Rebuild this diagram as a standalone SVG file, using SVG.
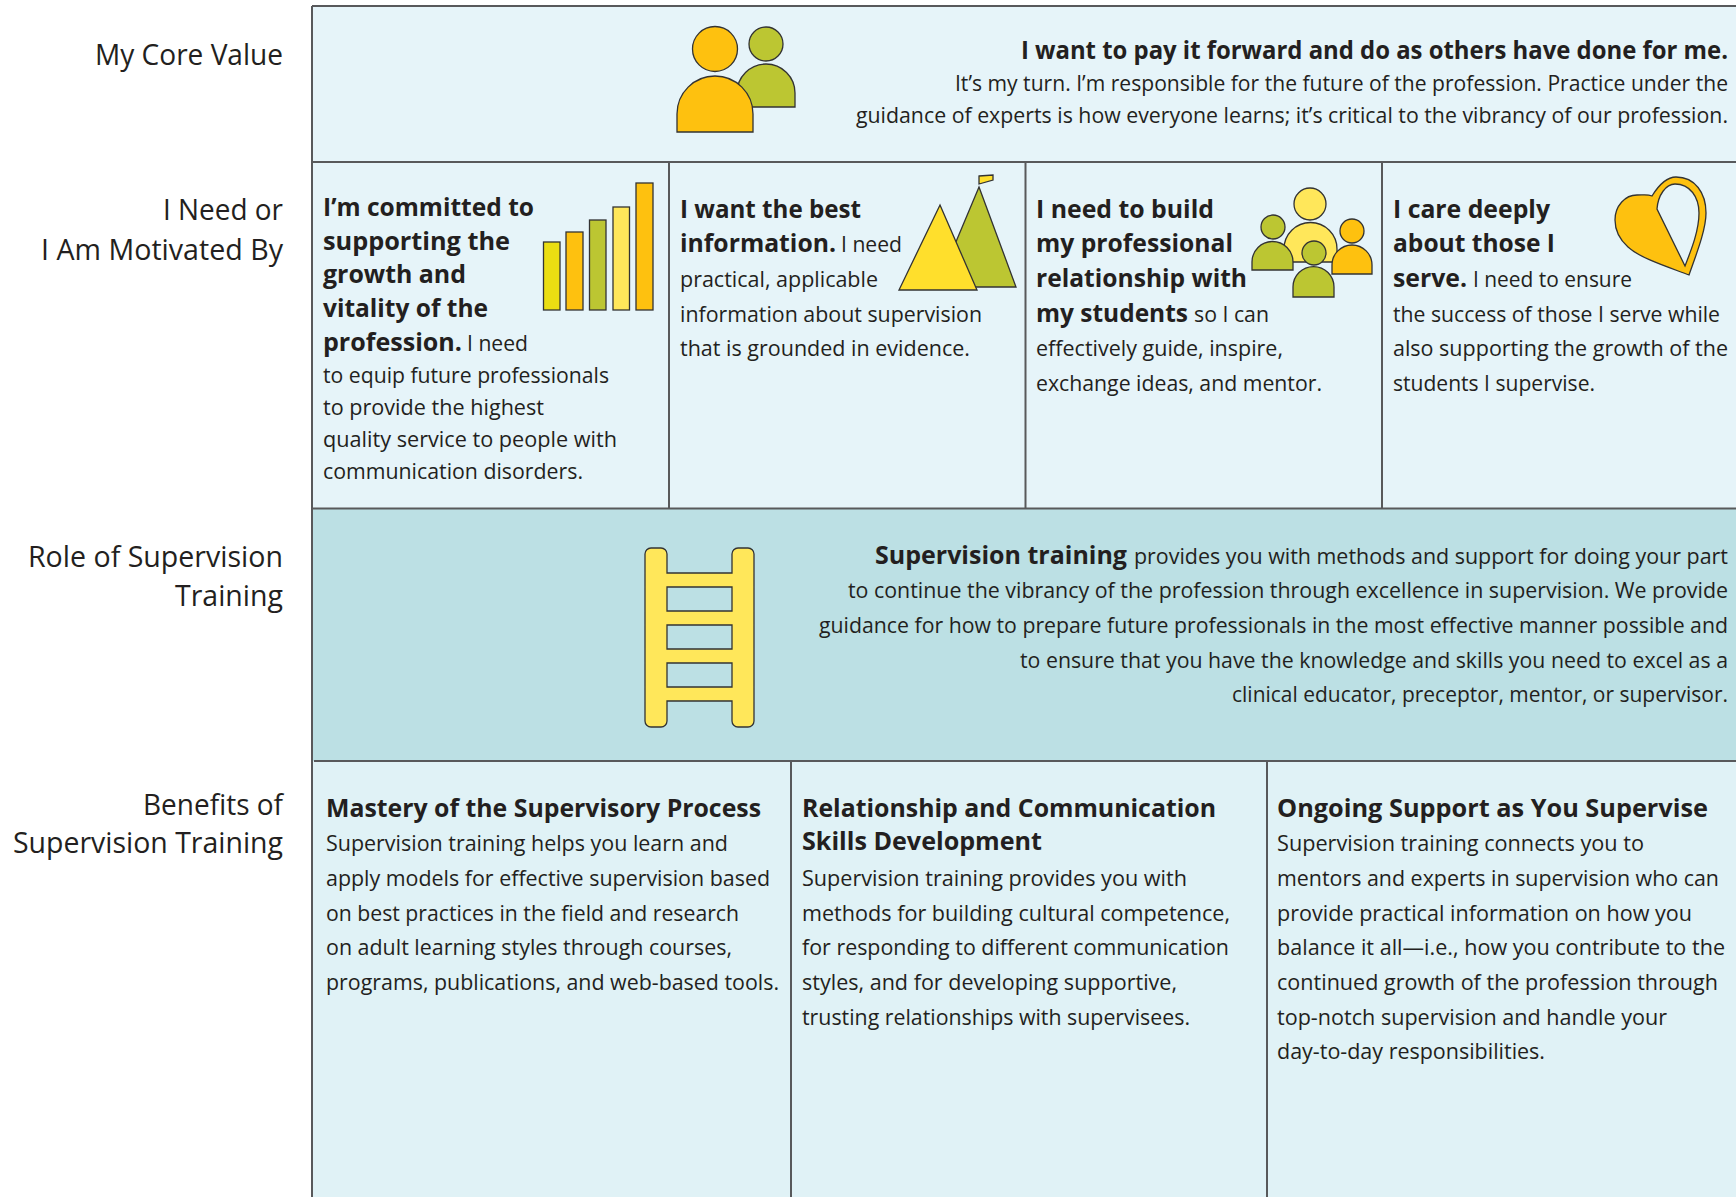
<svg xmlns="http://www.w3.org/2000/svg" width="1736" height="1197" viewBox="0 0 1736 1197">
<style>
text{font-family:"Open Sans","Noto Sans","Liberation Sans",sans-serif;fill:#231f20}
.l{font-size:29px}
.b{font-size:25px;font-weight:700}
.t{font-size:22px}
.e{text-anchor:end}
.ln{stroke:#58595b;stroke-width:2;fill:none}
.i{stroke:#333;stroke-width:1.3}
.o{fill:#fec10f}.g{fill:#bcc632}.y{fill:#ffe75a}
</style>
<g id="backgrounds">
<rect x="312" y="6" width="1424" height="156" fill="#e6f4f9"/>
<rect x="312" y="162" width="1424" height="346" fill="#e6f4f9"/>
<rect x="312" y="508" width="1424" height="253" fill="#bce0e4"/>
<rect x="312" y="761" width="1424" height="436" fill="#e0f2f6"/>
</g>
<g id="grid">
<path class="ln" d="M312 6H1736M312 162H1736M312 508.5H1736M314 761H1736M312 6V1197M669 162V508M1025.5 162V508M1382 162V508M791 761V1197M1267 761V1197"/>
</g>
<g id="row-labels">
<text class="l" x="95" y="65" textLength="188" lengthAdjust="spacingAndGlyphs">My Core Value</text>
<text class="l" x="163" y="220" textLength="120" lengthAdjust="spacingAndGlyphs">I Need or</text>
<text class="l" x="41" y="260" textLength="242" lengthAdjust="spacingAndGlyphs">I Am Motivated By</text>
<text class="l" x="28" y="567" textLength="255" lengthAdjust="spacingAndGlyphs">Role of Supervision</text>
<text class="l" x="175" y="606" textLength="108" lengthAdjust="spacingAndGlyphs">Training</text>
<text class="l" x="143" y="815" textLength="140" lengthAdjust="spacingAndGlyphs">Benefits of</text>
<text class="l" x="13" y="853" textLength="270" lengthAdjust="spacingAndGlyphs">Supervision Training</text>
</g>
<g id="core-value">
<g id="icon-people-two">
<circle class="i g" cx="766" cy="44" r="17"/>
<path class="i g" d="M737 107V93A29 29 0 0 1 795 93V107Z"/>
<circle class="i o" cx="715" cy="49" r="22.5"/>
<path class="i o" d="M677 132V114A38 38 0 0 1 753 114V132Z"/>
</g>
<text class="b e" transform="scale(.85 1)" x="2032.9" y="59" textLength="831.8" lengthAdjust="spacingAndGlyphs">I want to pay it forward and do as others have done for me.</text>
<g transform="scale(.925 1)">
<text class="t e" x="1868.1" y="91" textLength="835.7" lengthAdjust="spacingAndGlyphs">It’s my turn. I’m responsible for the future of the profession. Practice under the</text>
<text class="t e" x="1868.1" y="123" textLength="942.7" lengthAdjust="spacingAndGlyphs">guidance of experts is how everyone learns; it’s critical to the vibrancy of our profession.</text>
</g>
</g>
<g id="need-growth">
<g id="icon-bars" class="i">
<rect x="543.5" y="242" width="16.5" height="68" fill="#ebde12"/>
<rect x="566" y="232" width="17" height="78" class="o"/>
<rect x="589.5" y="220" width="16.5" height="90" class="g"/>
<rect x="613" y="207" width="16.5" height="103" class="y"/>
<rect x="636" y="183" width="17" height="127" class="o"/>
</g>
<text class="b" x="323" y="216" textLength="211" lengthAdjust="spacingAndGlyphs">I’m committed to</text>
<text class="b" x="323" y="250" textLength="187" lengthAdjust="spacingAndGlyphs">supporting the</text>
<text class="b" x="323" y="283" textLength="143" lengthAdjust="spacingAndGlyphs">growth and</text>
<text class="b" x="323" y="317" textLength="165" lengthAdjust="spacingAndGlyphs">vitality of the</text>
<text class="b" x="323" y="351" textLength="139" lengthAdjust="spacingAndGlyphs">profession.</text>
<text class="t" x="467" y="351" textLength="61" lengthAdjust="spacingAndGlyphs">I need</text>
<text class="t" x="323" y="383" textLength="286" lengthAdjust="spacingAndGlyphs">to equip future professionals</text>
<text class="t" x="323" y="415" textLength="221" lengthAdjust="spacingAndGlyphs">to provide the highest</text>
<text class="t" x="323" y="447" textLength="294" lengthAdjust="spacingAndGlyphs">quality service to people with</text>
<text class="t" x="323" y="479" textLength="260" lengthAdjust="spacingAndGlyphs">communication disorders.</text>
</g>
<g id="need-information">
<g id="icon-mountains" class="i">
<path class="g" d="M979 187L1016 287H937Z"/>
<path fill="#ffdf2c" d="M940 205L977 290H899Z"/>
<path fill="#ffdf2c" d="M979 176L993 175V180L979 184Z"/>
</g>
<text class="b" x="680" y="218" textLength="181" lengthAdjust="spacingAndGlyphs">I want the best</text>
<text class="b" x="680" y="252" textLength="156" lengthAdjust="spacingAndGlyphs">information.</text>
<text class="t" x="841" y="252" textLength="61" lengthAdjust="spacingAndGlyphs">I need</text>
<text class="t" x="680" y="287" textLength="198" lengthAdjust="spacingAndGlyphs">practical, applicable</text>
<text class="t" x="680" y="322" textLength="302" lengthAdjust="spacingAndGlyphs">information about supervision</text>
<text class="t" x="680" y="356" textLength="290" lengthAdjust="spacingAndGlyphs">that is grounded in evidence.</text>
</g>
<g id="need-relationship">
<g id="icon-people-group" class="i">
<circle class="y" cx="1310" cy="204" r="16"/>
<path class="y" d="M1284 262V249A26.5 26.5 0 0 1 1337 249V262Z"/>
<circle class="g" cx="1273" cy="227" r="12"/>
<path class="g" d="M1252 270V262A20.5 20.5 0 0 1 1293 262V270Z"/>
<circle class="o" cx="1352" cy="231" r="12"/>
<path class="o" d="M1332 274V265A20 20 0 0 1 1372 265V274Z"/>
<circle class="g" cx="1314" cy="253" r="12"/>
<path class="g" d="M1293 297V287A20.5 20.5 0 0 1 1334 287V297Z"/>
</g>
<text class="b" x="1036" y="218" textLength="178" lengthAdjust="spacingAndGlyphs">I need to build</text>
<text class="b" x="1036" y="252" textLength="197" lengthAdjust="spacingAndGlyphs">my professional</text>
<text class="b" x="1036" y="287" textLength="211" lengthAdjust="spacingAndGlyphs">relationship with</text>
<text class="b" x="1036" y="322" textLength="152" lengthAdjust="spacingAndGlyphs">my students</text>
<text class="t" x="1194" y="322" textLength="75" lengthAdjust="spacingAndGlyphs">so I can</text>
<text class="t" x="1036" y="356" textLength="247" lengthAdjust="spacingAndGlyphs">effectively guide, inspire,</text>
<text class="t" x="1036" y="391" textLength="286" lengthAdjust="spacingAndGlyphs">exchange ideas, and mentor.</text>
</g>
<g id="need-care">
<g id="icon-heart" class="i">
<path class="o" d="M1652 196C1660 183 1668 177 1676 177C1695 177 1706 193 1706 213C1706 230 1696 255 1689 275C1665 266 1640 258 1628 247C1618 238 1615 228 1615 220C1615 206 1625 195 1637 195C1643 195 1648 194 1652 196Z"/>
<path fill="#e6f4f9" d="M1685 266L1657 209C1658 195 1666 184 1675 184C1690 184 1699 197 1699 213C1699 230 1692 248 1685 266Z"/>
</g>
<text class="b" x="1393" y="218" textLength="157" lengthAdjust="spacingAndGlyphs">I care deeply</text>
<text class="b" x="1393" y="252" textLength="162" lengthAdjust="spacingAndGlyphs">about those I</text>
<text class="b" x="1393" y="287" textLength="74" lengthAdjust="spacingAndGlyphs">serve.</text>
<text class="t" x="1473" y="287" textLength="159" lengthAdjust="spacingAndGlyphs">I need to ensure</text>
<text class="t" x="1393" y="322" textLength="327" lengthAdjust="spacingAndGlyphs">the success of those I serve while</text>
<text class="t e" transform="scale(.925 1)" x="1868.1" y="356" textLength="362.2" lengthAdjust="spacingAndGlyphs">also supporting the growth of the</text>
<text class="t" x="1393" y="391" textLength="202" lengthAdjust="spacingAndGlyphs">students I supervise.</text>
</g>
<g id="role">
<path id="icon-ladder" class="i y" fill-rule="evenodd" d="M651 548H661A6 6 0 0 1 667 554V573H732V554A6 6 0 0 1 738 548H748A6 6 0 0 1 754 554V721A6 6 0 0 1 748 727H738A6 6 0 0 1 732 721V701H667V721A6 6 0 0 1 661 727H651A6 6 0 0 1 645 721V554A6 6 0 0 1 651 548ZM667 587V611H732V587ZM667 625V649H732V625ZM667 663V687H732V663Z"/>
<text class="b" x="875" y="564" textLength="252" lengthAdjust="spacingAndGlyphs">Supervision training</text>
<g transform="scale(.925 1)">
<text class="t e" x="1868.1" y="564" textLength="642.2" lengthAdjust="spacingAndGlyphs">provides you with methods and support for doing your part</text>
<text class="t e" x="1868.1" y="598" textLength="951.4" lengthAdjust="spacingAndGlyphs">to continue the vibrancy of the profession through excellence in supervision. We provide</text>
<text class="t e" x="1868.1" y="633" textLength="982.7" lengthAdjust="spacingAndGlyphs">guidance for how to prepare future professionals in the most effective manner possible and</text>
<text class="t e" x="1868.1" y="668" textLength="765.4" lengthAdjust="spacingAndGlyphs">to ensure that you have the knowledge and skills you need to excel as a</text>
<text class="t e" x="1868.1" y="702" textLength="536.2" lengthAdjust="spacingAndGlyphs">clinical educator, preceptor, mentor, or supervisor.</text>
</g>
</g>
<g id="benefit-mastery">
<text class="b" x="326" y="817" textLength="435" lengthAdjust="spacingAndGlyphs">Mastery of the Supervisory Process</text>
<text class="t" x="326" y="851" textLength="402" lengthAdjust="spacingAndGlyphs">Supervision training helps you learn and</text>
<text class="t" x="326" y="886" textLength="444" lengthAdjust="spacingAndGlyphs">apply models for effective supervision based</text>
<text class="t" x="326" y="921" textLength="413" lengthAdjust="spacingAndGlyphs">on best practices in the field and research</text>
<text class="t" x="326" y="955" textLength="406" lengthAdjust="spacingAndGlyphs">on adult learning styles through courses,</text>
<text class="t" x="326" y="990" textLength="453" lengthAdjust="spacingAndGlyphs">programs, publications, and web-based tools.</text>
</g>
<g id="benefit-relationship">
<text class="b" x="802" y="817" textLength="414" lengthAdjust="spacingAndGlyphs">Relationship and Communication</text>
<text class="b" x="802" y="850" textLength="240" lengthAdjust="spacingAndGlyphs">Skills Development</text>
<text class="t" x="802" y="886" textLength="385" lengthAdjust="spacingAndGlyphs">Supervision training provides you with</text>
<text class="t" x="802" y="921" textLength="428" lengthAdjust="spacingAndGlyphs">methods for building cultural competence,</text>
<text class="t" x="802" y="955" textLength="427" lengthAdjust="spacingAndGlyphs">for responding to different communication</text>
<text class="t" x="802" y="990" textLength="375" lengthAdjust="spacingAndGlyphs">styles, and for developing supportive,</text>
<text class="t" x="802" y="1025" textLength="388" lengthAdjust="spacingAndGlyphs">trusting relationships with supervisees.</text>
</g>
<g id="benefit-support">
<text class="b" x="1277" y="817" textLength="431" lengthAdjust="spacingAndGlyphs">Ongoing Support as You Supervise</text>
<text class="t" x="1277" y="851" textLength="367" lengthAdjust="spacingAndGlyphs">Supervision training connects you to</text>
<text class="t" x="1277" y="886" textLength="442" lengthAdjust="spacingAndGlyphs">mentors and experts in supervision who can</text>
<text class="t" x="1277" y="921" textLength="415" lengthAdjust="spacingAndGlyphs">provide practical information on how you</text>
<text class="t" x="1277" y="955" textLength="448" lengthAdjust="spacingAndGlyphs">balance it all—i.e., how you contribute to the</text>
<text class="t" x="1277" y="990" textLength="441" lengthAdjust="spacingAndGlyphs">continued growth of the profession through</text>
<text class="t" x="1277" y="1025" textLength="390" lengthAdjust="spacingAndGlyphs">top-notch supervision and handle your</text>
<text class="t" x="1277" y="1059" textLength="268" lengthAdjust="spacingAndGlyphs">day-to-day responsibilities.</text>
</g>
</svg>
